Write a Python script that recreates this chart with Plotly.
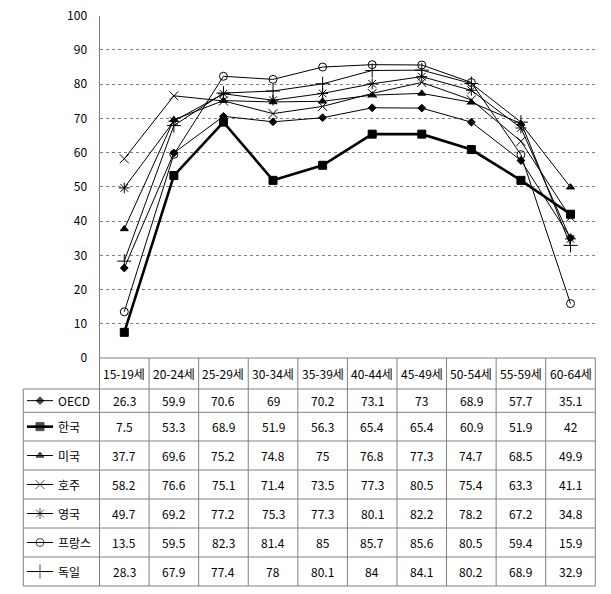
import plotly.graph_objects as go

W, H = 611, 594

categories = ["15-19세", "20-24세", "25-29세", "30-34세", "35-39세",
              "40-44세", "45-49세", "50-54세", "55-59세", "60-64세"]
series_names = ["OECD", "한국", "미국", "호주", "영국", "프랑스", "독일"]
oecd = [26.3, 59.9, 70.6, 69, 70.2, 73.1, 73, 68.9, 57.7, 35.1]
korea = [7.5, 53.3, 68.9, 51.9, 56.3, 65.4, 65.4, 60.9, 51.9, 42]
usa = [37.7, 69.6, 75.2, 74.8, 75, 76.8, 77.3, 74.7, 68.5, 49.9]
australia = [58.2, 76.6, 75.1, 71.4, 73.5, 77.3, 80.5, 75.4, 63.3, 41.1]
uk = [49.7, 69.2, 77.2, 75.3, 77.3, 80.1, 82.2, 78.2, 67.2, 34.8]
france = [13.5, 59.5, 82.3, 81.4, 85, 85.7, 85.6, 80.5, 59.4, 15.9]
germany = [28.3, 67.9, 77.4, 78, 80.1, 84, 84.1, 80.2, 68.9, 32.9]
values = [oecd, korea, usa, australia, uk, france, germany]
y_ticks = [0, 10, 20, 30, 40, 50, 60, 70, 80, 90, 100]

# styles
styles = [
    dict(symbol="diamond", size=6, lw=1),
    dict(symbol="square", size=8, lw=2.6),
    dict(symbol="triangle-up", size=7, lw=1),
    dict(symbol="x-thin-open", size=9, lw=1),
    dict(symbol="asterisk-open", size=9, lw=1),
    dict(symbol="circle-open", size=8, lw=1),
    dict(symbol="cross-thin-open", size=10, lw=1),
]

# layout geometry (pixels)
PL, PR = 99.5, 595.3          # plot left/right
PT, PB = 15.7, 358.0          # y=100, y=0
TL = 23.3                     # table left
row_edges = [389.0, 412.3, 441.0, 470.0, 499.0, 528.0, 557.0, 586.0]
GRAY = "#808080"
FONT = "Noto Sans CJK KR"

fig = go.Figure()

for name, vals, st in zip(series_names, values, styles):
    fig.add_trace(go.Scatter(
        x=categories, y=vals, mode="lines+markers", name=name,
        line=dict(color="black", width=st["lw"]),
        marker=dict(symbol=st["symbol"], size=st["size"], color="black",
                    line=dict(color="black", width=1)),
        xaxis="x", yaxis="y", showlegend=False, hoverinfo="skip", cliponaxis=False))

# legend keys inside the table (pixel-space axes covering the whole page)
for i, st in enumerate(styles):
    yc = (row_edges[i] + row_edges[i + 1]) / 2
    fig.add_trace(go.Scatter(
        x=[27, 40, 53], y=[yc, yc, yc], mode="lines+markers",
        line=dict(color="black", width=st["lw"]),
        marker=dict(symbol=st["symbol"], size=[0, st["size"], 0], color="black",
                    line=dict(color="black", width=1)),
        xaxis="x2", yaxis="y2", showlegend=False, hoverinfo="skip"))

shapes = []
def line(x0, y0, x1, y1):
    shapes.append(dict(type="line", xref="x2", yref="y2", x0=x0, y0=y0, x1=x1, y1=y1,
                       line=dict(color=GRAY, width=1)))

colw = (PR - PL) / len(categories)
col_edges = [PL + i * colw for i in range(len(categories) + 1)]
for xe in col_edges:
    line(xe, PB, xe, row_edges[-1])
line(TL, row_edges[0], TL, row_edges[-1])
for ye in row_edges:
    line(TL, ye, PR, ye)
line(PL, PB, PR, PB)

annotations = []
for j, c in enumerate(categories):
    xc = (col_edges[j] + col_edges[j + 1]) / 2
    annotations.append(dict(x=xc, y=(PB + row_edges[0]) / 2, xref="x2", yref="y2",
                            text=c, showarrow=False, font=dict(size=12, color="black", family=FONT)))
for i, (name, vals) in enumerate(zip(series_names, values)):
    yc = (row_edges[i] + row_edges[i + 1]) / 2
    annotations.append(dict(x=56, y=yc, xref="x2", yref="y2", xanchor="left",
                            text=name, showarrow=False, font=dict(size=12, color="black", family=FONT)))
    for j, v in enumerate(vals):
        xc = (col_edges[j] + col_edges[j + 1]) / 2
        annotations.append(dict(x=xc, y=yc, xref="x2", yref="y2",
                                text=f"{v:g}", showarrow=False,
                                font=dict(size=12, color="black", family=FONT)))

fig.update_layout(
    width=W, height=H, margin=dict(l=0, r=0, t=0, b=0, autoexpand=False),
    paper_bgcolor="white", plot_bgcolor="rgba(0,0,0,0)",
    font=dict(family=FONT, size=12, color="black"),
    xaxis=dict(domain=[PL / W, PR / W], range=[-0.5, 9.5], type="category",
               categoryorder="array", categoryarray=categories,
               showticklabels=False, showgrid=False, zeroline=False,
               showline=False, anchor="y", automargin=False),
    yaxis=dict(domain=[1 - PB / H, 1 - PT / H], range=[0, 100], tickvals=y_ticks,
               showgrid=True, gridcolor=GRAY, griddash="dot", gridwidth=1,
               zeroline=False, showline=True, linecolor=GRAY, linewidth=1,
               ticks="outside", ticklen=9, tickcolor="rgba(0,0,0,0)",
               tickfont=dict(size=12, family=FONT, color="black"), anchor="x",
               automargin=False),
    xaxis2=dict(domain=[0, 1], range=[0, W], visible=False, anchor="y2", automargin=False),
    yaxis2=dict(domain=[0, 1], range=[H, 0], visible=False, anchor="x2", automargin=False),
    shapes=shapes, annotations=annotations,
)

fig.write_html("out.html")
